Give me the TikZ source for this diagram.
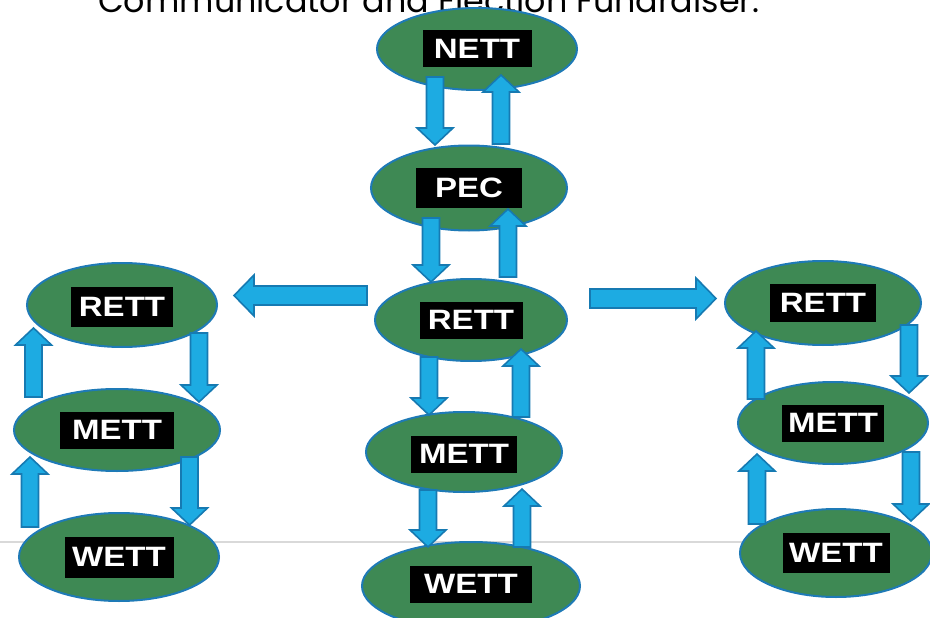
\documentclass[tikz,border=0pt]{standalone}
\usepackage{fontspec}
\setmainfont{Liberation Sans}
\newfontfamily\titlefont{Poppins}
\newfontfamily\tagfont[FakeStretch=1.18]{Liberation Sans}
\usetikzlibrary{shapes.geometric, calc}

\definecolor{unitgreen}{RGB}{62,137,84}
\definecolor{unitline}{RGB}{30,122,182}
\definecolor{arrowfill}{RGB}{29,171,226}
\definecolor{arrowline}{RGB}{22,122,178}

\tikzset{
  ba shaft/.store in=\bashaft, ba head/.store in=\bahead, ba tip/.store in=\batip,
  ba shaft=8.5, ba head=18, ba tip=17,
  unit/.style={ellipse, draw=unitline, line width=2pt, fill=unitgreen, inner sep=0pt},
  tag/.style={fill=black, text=white, inner sep=0pt, minimum width=106pt, minimum height=37pt,
    font=\tagfont\bfseries\fontsize{28}{28}\selectfont},
  % block arrow (shaft + head) from start to target
  blockarrow/.style={draw=arrowline, fill=arrowfill, line width=1.6pt, line join=miter,
    to path={let \p1=(\tikztostart), \p2=(\tikztotarget),
      \n1={veclen(\x2-\x1,\y2-\y1)}, \n2={(\x2-\x1)/\n1}, \n3={(\y2-\y1)/\n1},
      \n4={\n1-\batip} in
      ({\x1-\bashaft*(\n3)},{\y1+\bashaft*(\n2)})
      -- ({\x1+\n4*(\n2)-\bashaft*(\n3)},{\y1+\n4*(\n3)+\bashaft*(\n2)})
      -- ({\x1+\n4*(\n2)-\bahead*(\n3)},{\y1+\n4*(\n3)+\bahead*(\n2)})
      -- (\p2)
      -- ({\x1+\n4*(\n2)+\bahead*(\n3)},{\y1+\n4*(\n3)-\bahead*(\n2)})
      -- ({\x1+\n4*(\n2)+\bashaft*(\n3)},{\y1+\n4*(\n3)-\bashaft*(\n2)})
      -- ({\x1+\bashaft*(\n3)},{\y1-\bashaft*(\n2)}) -- cycle}}
}

\begin{document}
\begin{tikzpicture}[x=1pt, y=-1pt]
    \clip (0,0) rectangle (930,618);

    % slide rule and cut-off title
    \draw[gray!30, line width=1.5pt] (0,542) -- (930,542);
    \node[anchor=base west, inner sep=0pt] (title) at (98,13)
        {\resizebox{661pt}{!}{\titlefont Communicator and Election Fundraiser.}};

    % Centre column
    \node[unit, minimum width=200pt, minimum height=82pt] (nett)  at (477,49)  {};
    \node[unit, minimum width=196pt, minimum height=85pt] (pec)   at (469,188) {};
    \node[unit, minimum width=192pt, minimum height=82pt] (rettc) at (471,320) {};
    \node[unit, minimum width=196pt, minimum height=80pt] (mettc) at (464,452) {};
    \node[unit, minimum width=218pt, minimum height=88pt] (wettc) at (471,586) {};

    % Left column
    \node[unit, minimum width=190pt, minimum height=84pt] (rettl) at (122,305) {};
    \node[unit, minimum width=206pt, minimum height=82pt] (mettl) at (117,430) {};
    \node[unit, minimum width=200pt, minimum height=88pt] (wettl) at (119,557) {};

    % Right column
    \node[unit, minimum width=196pt, minimum height=84pt] (rettr) at (823,303) {};
    \node[unit, minimum width=190pt, minimum height=82pt] (mettr) at (833,423) {};
    \node[unit, minimum width=192pt, minimum height=88pt] (wettr) at (836,553) {};

    % Labels in black boxes
    \node[tag, minimum width=109pt] (nett-tag)  at (nett)  {NETT};
    \node[tag, minimum height=40pt] (pec-tag)   at (pec)   {PEC};
    \node[tag, minimum width=103pt] (rettc-tag) at (rettc) {RETT};
    \node[tag] (mettc-tag) at ($(mettc)+(0,2)$) {METT};
    \node[tag, minimum width=122pt] (wettc-tag) at ($(wettc)+(0,-2)$) {WETT};
    \node[tag, minimum width=102pt, minimum height=40pt] (rettl-tag) at ($(rettl)+(0,2)$) {RETT};
    \node[tag, minimum width=114pt] (mettl-tag) at (mettl) {METT};
    \node[tag, minimum width=109pt, minimum height=41pt] (wettl-tag) at (wettl) {WETT};
    \node[tag, minimum height=38pt] (rettr-tag) at (rettr) {RETT};
    \node[tag, minimum width=102pt] (mettr-tag) at (mettr) {METT};
    \node[tag, minimum width=107pt, minimum height=40pt] (wettr-tag) at (wettr) {WETT};

    % Centre column arrows
    \draw[blockarrow] ($(nett)+(-42,28)$)  to ($(pec)+(-34,-43)$);
    \draw[blockarrow] ($(pec)+(32,-44)$)   to ($(nett)+(24,26)$);
    \draw[blockarrow] ($(pec)+(-38,30)$)   to ($(rettc)+(-40,-38)$);
    \draw[blockarrow] ($(rettc)+(37,-43)$) to ($(pec)+(39,21)$);
    \draw[blockarrow] ($(rettc)+(-42,37)$) to ($(mettc)+(-35,-37)$);
    \draw[blockarrow] ($(mettc)+(57,-35)$) to ($(rettc)+(50,29)$);
    \draw[blockarrow] ($(mettc)+(-36,38)$) to ($(wettc)+(-43,-39)$);
    \draw[blockarrow] ($(wettc)+(51,-39)$) to ($(mettc)+(58,37)$);

    % Left column arrows
    \draw[blockarrow] ($(mettl)+(-83.5,-33)$) to ($(rettl)+(-88.5,23)$);
    \draw[blockarrow] ($(rettl)+(77,28)$)     to ($(mettl)+(82,-28)$);
    \draw[blockarrow] ($(wettl)+(-89,-30)$)   to ($(mettl)+(-87,27)$);
    \draw[blockarrow] ($(mettl)+(72.5,27)$)   to ($(wettl)+(70.5,-32)$);

    % Right column arrows
    \draw[blockarrow] ($(mettr)+(-77,-24)$) to ($(rettr)+(-67,28)$);
    \draw[blockarrow] ($(rettr)+(86,22)$)   to ($(mettr)+(76,-30)$);
    \draw[blockarrow] ($(wettr)+(-79,-29)$) to ($(mettr)+(-76,31)$);
    \draw[blockarrow] ($(mettr)+(78,29)$)   to ($(wettr)+(75,-32)$);

    % Side branches
    \draw[blockarrow, ba shaft=9.5, ba head=20.5, ba tip=20] ($(rettc)+(-104,-24.5)$) to ($(rettl)+(112,-9.5)$);
    \draw[blockarrow, ba shaft=9.5, ba head=20.5, ba tip=20] ($(rettc)+(119,-21.5)$)  to ($(rettr)+(-107,-4.5)$);
\end{tikzpicture}
\end{document}
